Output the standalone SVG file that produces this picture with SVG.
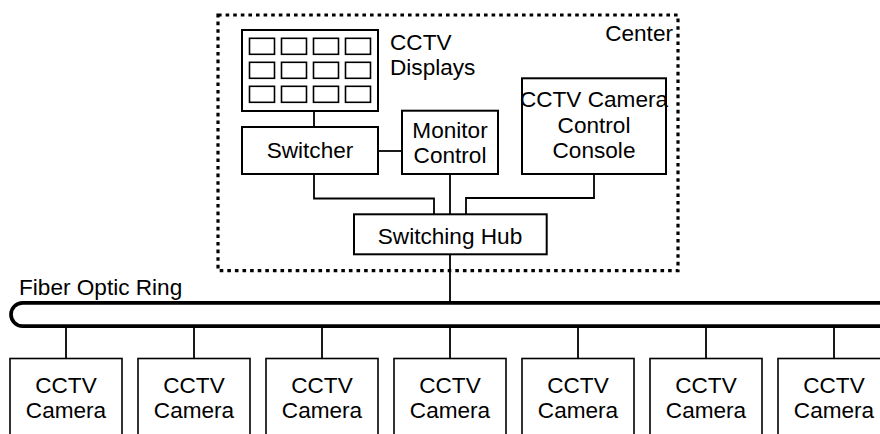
<svg xmlns="http://www.w3.org/2000/svg" width="880" height="434" viewBox="0 0 880 434">
  <style>
    text { font-family: "Liberation Sans", Arial, sans-serif; font-size: 22.6px; fill: #000; }
    .mid { text-anchor: middle; }
    .box { fill: #fff; stroke: #000; stroke-width: 2; }
    .screen { fill: #fff; stroke: #000; stroke-width: 1.6; }
    .cam { fill: #fff; stroke: #000; stroke-width: 1.6; }
    .wire { fill: none; stroke: #000; stroke-width: 1.8; }
    .ring { fill: none; stroke: #000; stroke-width: 3.7; }
    .zone { fill: none; stroke: #000; stroke-width: 3.2; stroke-dasharray: 3.6 4; }
  </style>
  <defs>
    <rect id="scr" width="25" height="16" class="screen"/>
    <g id="camera">
      <rect x="0" y="358.5" width="112" height="100" class="cam"/>
      <text x="56" y="393.3" class="mid">CCTV</text>
      <text x="56" y="418.3" class="mid">Camera</text>
    </g>
  </defs>

  <!-- control centre boundary -->
  <g id="center">
    <rect x="218" y="15" width="460" height="255.7" class="zone"/>
    <text x="673" y="41" text-anchor="end">Center</text>
  </g>

  <!-- connectors -->
  <g id="connectors">
    <line x1="314" y1="111" x2="314" y2="127" class="wire"/>
    <line x1="378" y1="151" x2="402" y2="151" class="wire"/>
    <polyline points="314,174 314,198.5 434,198.5 434,214" class="wire"/>
    <line x1="450" y1="174" x2="450" y2="214" class="wire"/>
    <polyline points="594,174 594,198 466,198 466,214" class="wire"/>
    <line x1="450" y1="254" x2="450" y2="302" class="wire"/>
    <line x1="66" y1="326" x2="66" y2="358.5" class="wire"/>
    <line x1="194" y1="326" x2="194" y2="358.5" class="wire"/>
    <line x1="322" y1="326" x2="322" y2="358.5" class="wire"/>
    <line x1="450" y1="326" x2="450" y2="358.5" class="wire"/>
    <line x1="578" y1="326" x2="578" y2="358.5" class="wire"/>
    <line x1="706" y1="326" x2="706" y2="358.5" class="wire"/>
    <line x1="834" y1="326" x2="834" y2="358.5" class="wire"/>
  </g>

  <!-- video wall -->
  <g id="displays">
    <rect x="242" y="30" width="136" height="81" class="box"/>
    <use href="#scr" x="249.5" y="38.3"/>
    <use href="#scr" x="281.5" y="38.3"/>
    <use href="#scr" x="313.5" y="38.3"/>
    <use href="#scr" x="345.5" y="38.3"/>
    <use href="#scr" x="249.5" y="62.3"/>
    <use href="#scr" x="281.5" y="62.3"/>
    <use href="#scr" x="313.5" y="62.3"/>
    <use href="#scr" x="345.5" y="62.3"/>
    <use href="#scr" x="249.5" y="86.3"/>
    <use href="#scr" x="281.5" y="86.3"/>
    <use href="#scr" x="313.5" y="86.3"/>
    <use href="#scr" x="345.5" y="86.3"/>
    <text x="390" y="50">CCTV</text>
    <text x="390" y="75">Displays</text>
  </g>

  <g id="switcher">
    <rect x="242" y="127" width="136" height="47" class="box"/>
    <text x="310" y="158.3" class="mid">Switcher</text>
  </g>

  <g id="monitor-control">
    <rect x="402" y="110.7" width="96" height="63.3" class="box"/>
    <text x="450" y="138.3" class="mid">Monitor</text>
    <text x="450" y="162.7" class="mid">Control</text>
  </g>

  <g id="camera-console">
    <rect x="522" y="78.3" width="144" height="95.7" class="box"/>
    <text x="594" y="106.7" class="mid">CCTV Camera</text>
    <text x="594" y="132.7" class="mid">Control</text>
    <text x="594" y="157.7" class="mid">Console</text>
  </g>

  <g id="switching-hub">
    <rect x="354" y="214.3" width="192.7" height="40" class="box"/>
    <text x="450" y="244.3" class="mid">Switching Hub</text>
  </g>

  <!-- fibre backbone -->
  <g id="fiber-ring">
    <path d="M 892 302.8 H 22.7 A 11.7 11.7 0 0 0 22.7 326.2 H 892" class="ring"/>
    <text x="19" y="295">Fiber Optic Ring</text>
  </g>

  <g id="camera-1"><use href="#camera" x="10"/></g>
  <g id="camera-2"><use href="#camera" x="138"/></g>
  <g id="camera-3"><use href="#camera" x="266"/></g>
  <g id="camera-4"><use href="#camera" x="394"/></g>
  <g id="camera-5"><use href="#camera" x="522"/></g>
  <g id="camera-6"><use href="#camera" x="650"/></g>
  <g id="camera-7"><use href="#camera" x="778"/></g>
</svg>
